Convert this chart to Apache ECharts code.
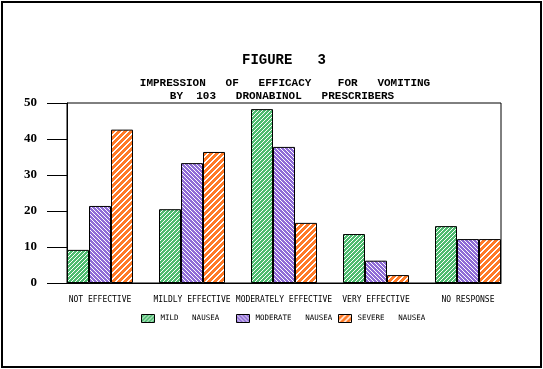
<!DOCTYPE html>
<html>
<head>
<meta charset="utf-8">
<script src="https://cdn.jsdelivr.net/npm/echarts@6/dist/echarts.min.js"></script>
<style>
  html, body { margin: 0; padding: 0; background: #fff; }
  #chart { width: 543px; height: 369px; }
</style>
</head>
<body>
<div id="chart"></div>
<script>
// ---- data ----
const categories = ['NOT EFFECTIVE', 'MILDLY EFFECTIVE', 'MODERATELY EFFECTIVE', 'VERY EFFECTIVE', 'NO RESPONSE'];
const seriesNames = ['MILD   NAUSEA', 'MODERATE   NAUSEA', 'SEVERE   NAUSEA'];
const mildNausea = [9.2, 20.5, 48.3, 13.6, 15.8];
const moderateNausea = [21.4, 33.3, 37.8, 6.2, 12.2];
const severeNausea = [42.6, 36.4, 16.7, 2.2, 12.2];
const yTicks = [0, 10, 20, 30, 40, 50];

// ---- hatch patterns ----
function makePattern(color, period, white, dir) {
  const c = document.createElement('canvas');
  c.width = period; c.height = period;
  const ctx = c.getContext('2d');
  ctx.fillStyle = color;
  ctx.fillRect(0, 0, period, period);
  ctx.fillStyle = '#ffffff';
  for (let y = 0; y < period; y++) {
    for (let x = 0; x < period; x++) {
      const k = dir === '/' ? (x + y) % period : (((x - y) % period) + period) % period;
      if (k < white) ctx.fillRect(x, y, 1, 1);
    }
  }
  return { image: c, repeat: 'repeat' };
}
const greenPat = makePattern('#4dbb6f', 4, 1, '/');
const purplePat = makePattern('#8f6cd6', 4, 1, '\\');
const orangePat = makePattern('#ff7a26', 6, 2, '/');

const toPairs = arr => arr.map((v, i) => [i, v]);

const chart = echarts.init(document.getElementById('chart'), null, { renderer: 'canvas' });
const monoFont = 'DejaVu Sans Mono';
const titleFont = 'Liberation Mono';

const legendCommon = {
  orient: 'horizontal',
  itemWidth: 13,
  itemHeight: 8,
  itemGap: 10,
  icon: 'rect',
  top: 314,
  padding: 0,
  selectedMode: false,
  itemStyle: { borderColor: '#000', borderWidth: 1 },
  textStyle: { fontFamily: monoFont, fontSize: 7.5, color: '#000', padding: [0, 0, 0, 1] }
};

chart.setOption({
  animation: false,
  backgroundColor: '#fff',
  title: [
    { text: 'FIGURE   3', left: 279, top: 48, textAlign: 'center',
      textStyle: { fontFamily: titleFont, fontSize: 14, fontWeight: 'bold', color: '#000' } },
    { text: 'IMPRESSION   OF   EFFICACY    FOR   VOMITING', left: 280, top: 73, textAlign: 'center',
      textStyle: { fontFamily: titleFont, fontSize: 11, fontWeight: 'bold', color: '#000' } },
    { text: 'BY  103   DRONABINOL   PRESCRIBERS', left: 277, top: 86, textAlign: 'center',
      textStyle: { fontFamily: titleFont, fontSize: 11, fontWeight: 'bold', color: '#000' } }
  ],
  legend: [
    Object.assign({}, legendCommon, { data: [seriesNames[0]], left: 141 }),
    Object.assign({}, legendCommon, { data: [seriesNames[1]], left: 236 }),
    Object.assign({}, legendCommon, { data: [seriesNames[2]], left: 338 })
  ],
  graphic: [
    { type: 'rect', shape: { x: 2, y: 2, width: 539, height: 365 },
      style: { fill: 'none', stroke: '#000', lineWidth: 2 }, silent: true }
  ],
  grid: {
    left: 67, right: 42, top: 103, bottom: 86,
    show: true, borderColor: '#000', borderWidth: 1, backgroundColor: 'transparent'
  },
  xAxis: {
    type: 'value',
    min: -33 / 92,
    max: 4 + 33 / 92,
    axisLine: { show: true, onZero: false, lineStyle: { color: '#000', width: 1 } },
    axisTick: { show: false },
    splitLine: { show: false },
    axisLabel: {
      customValues: categories.map((c, i) => i),
      formatter: v => categories[Math.round(v)] || '',
      fontFamily: monoFont, fontSize: 8, color: '#000', margin: 13,
      showMinLabel: true, showMaxLabel: true
    }
  },
  yAxis: {
    type: 'value',
    min: yTicks[0],
    max: yTicks[yTicks.length - 1],
    interval: 10,
    axisLine: { show: true, onZero: false, lineStyle: { color: '#000', width: 1 } },
    axisTick: { show: true, inside: false, length: 20, lineStyle: { color: '#000', width: 1 } },
    splitLine: { show: false },
    axisLabel: {
      fontFamily: 'Liberation Serif', fontWeight: 'bold', fontSize: 13, color: '#000', margin: 30
    }
  },
  series: [
    { name: seriesNames[0], type: 'bar', data: toPairs(mildNausea), barWidth: 22, barGap: '0%',
      itemStyle: { color: greenPat, borderColor: '#000', borderWidth: 1 } },
    { name: seriesNames[1], type: 'bar', data: toPairs(moderateNausea), barWidth: 22, barGap: '0%',
      itemStyle: { color: purplePat, borderColor: '#000', borderWidth: 1 } },
    { name: seriesNames[2], type: 'bar', data: toPairs(severeNausea), barWidth: 22, barGap: '0%',
      itemStyle: { color: orangePat, borderColor: '#000', borderWidth: 1 } }
  ]
});
</script>
</body>
</html>
